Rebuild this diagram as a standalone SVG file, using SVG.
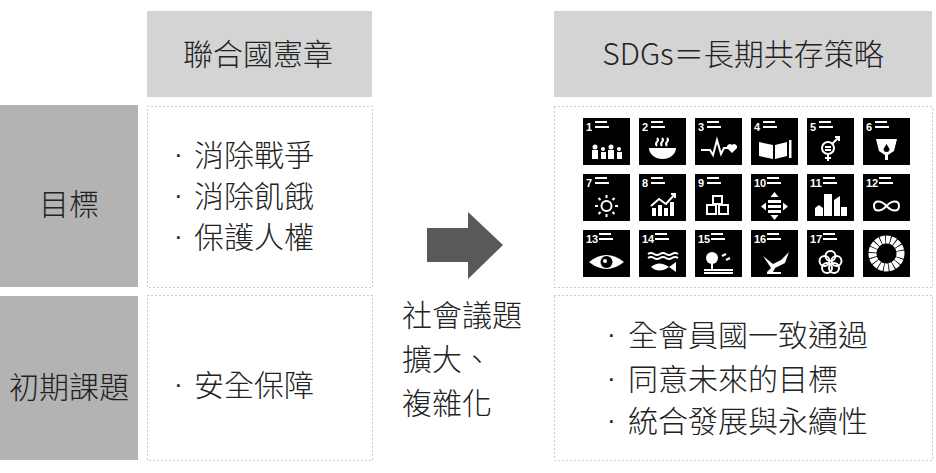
<svg xmlns="http://www.w3.org/2000/svg" width="936" height="473" viewBox="0 0 936 473">
<style>
.t{font-family:"Noto Sans CJK TC","Noto Sans CJK SC",sans-serif;font-weight:300;fill:#222;font-size:30px}
.b{font-family:"Liberation Sans",sans-serif;fill:#222;font-size:26px}
.hd{fill:#d4d4d4}
.side{fill:#b3b3b3}
.dot{fill:#fff;stroke:#999;stroke-width:1;stroke-dasharray:1 3}
.ic{fill:#000}
.n{font-family:"Liberation Sans",sans-serif;font-weight:bold;fill:#fff;font-size:11px}
.w{fill:#fff}
.ws{fill:none;stroke:#fff;stroke-width:2}
</style>
<defs>
<g id="lbl"><rect x="12" y="3" width="12" height="2" class="w"/><rect x="12" y="8" width="14" height="2" class="w"/></g>
</defs>
<rect width="936" height="473" fill="#fff"/>
<g id="header-left"><rect class="hd" x="147" y="11" width="225" height="86"/><text class="t" x="258" y="65" text-anchor="middle">聯合國憲章</text></g>
<g id="header-right"><rect class="hd" x="554" y="11" width="378" height="86"/><text class="t" x="743" y="65" text-anchor="middle">SDGs＝長期共存策略</text></g>
<g id="row-goal"><rect class="side" x="0" y="105" width="138" height="182"/><text class="t" x="69" y="215" text-anchor="middle">目標</text></g>
<g id="row-issue"><rect class="side" x="0" y="296" width="138" height="164"/><text class="t" x="69" y="398" text-anchor="middle">初期課題</text></g>
<g id="un-goals"><rect class="dot" x="147.5" y="106.5" width="225" height="181"/>
<text class="b"><tspan x="174" y="163">·</tspan><tspan x="174" y="204">·</tspan><tspan x="174" y="245">·</tspan></text>
<text class="t" font-size="29"><tspan x="194" y="166">消除戰爭</tspan><tspan x="194" y="207">消除飢餓</tspan><tspan x="194" y="248">保護人權</tspan></text></g>
<g id="un-issue"><rect class="dot" x="147.5" y="295.5" width="225" height="165"/>
<text class="b" x="174" y="393">·</text><text class="t" x="194" y="396">安全保障</text></g>
<g id="sdg-goals"><rect class="dot" x="554.5" y="106.5" width="378" height="181"/>
<g transform="translate(583,118)"><rect class="ic" width="47" height="47"/><text class="n" x="3" y="13">1</text><use href="#lbl"/><g class="w"><circle cx="12" cy="29" r="2.5"/><circle cx="20" cy="31" r="2"/><circle cx="28" cy="29" r="2.5"/><circle cx="36" cy="31" r="2"/><rect x="9" y="32" width="6" height="9"/><rect x="18" y="34" width="5" height="7"/><rect x="25" y="32" width="6" height="9"/><rect x="34" y="34" width="5" height="7"/></g></g>
<g transform="translate(639,118)"><rect class="ic" width="47" height="47"/><text class="n" x="3" y="13">2</text><use href="#lbl"/><path class="w" d="M10 30 H37 A13.5 11 0 0 1 10 30Z"/><path class="ws" stroke-width="1.3" d="M18 20 q2 2 0 4 q-2 2 0 4 M23 20 q2 2 0 4 q-2 2 0 4 M28 20 q2 2 0 4 q-2 2 0 4"/></g>
<g transform="translate(695,118)"><rect class="ic" width="47" height="47"/><text class="n" x="3" y="13">3</text><use href="#lbl"/><path class="ws" stroke-width="1.5" d="M6 32 H15 L18 37 L22 22 L26 36 L29 30 H33"/><path class="w" d="M37 27 a3 3 0 0 1 5 3 l-5 5 l-5 -5 a3 3 0 0 1 5 -3z"/></g>
<g transform="translate(751,118)"><rect class="ic" width="47" height="47"/><text class="n" x="3" y="13">4</text><use href="#lbl"/><path class="w" d="M8 24 L22 27 V41 L8 38Z M24 27 L36 24 V38 L24 41Z"/><rect class="w" x="38" y="22" width="2.5" height="18"/></g>
<g transform="translate(807,118)"><rect class="ic" width="47" height="47"/><text class="n" x="3" y="13">5</text><use href="#lbl"/><circle class="ws" cx="21" cy="30" r="6"/><path class="ws" d="M21 36 V43 M18 40 H24 M25 26 L32 19 M28 19 H32 V23 M18 29 H24 M18 32 H24"/></g>
<g transform="translate(863,118)"><rect class="ic" width="47" height="47"/><text class="n" x="3" y="13">6</text><use href="#lbl"/><path class="w" d="M13 21 H34 L31 33 L25 37 V42 H22 V37 L16 33Z"/><path class="ic" d="M23.5 26 l3 5 a3 3 0 1 1 -6 0z"/></g>
<g transform="translate(583,174)"><rect class="ic" width="47" height="47"/><text class="n" x="3" y="13">7</text><use href="#lbl"/><circle class="ws" cx="23.5" cy="32" r="5"/><path class="ws" stroke-width="1.5" d="M23.5 21 V24 M23.5 40 V43 M12 32 H15 M32 32 H35 M15.5 24 L17.5 26 M29.5 38 L31.5 40 M31.5 24 L29.5 26 M17.5 38 L15.5 40"/></g>
<g transform="translate(639,174)"><rect class="ic" width="47" height="47"/><text class="n" x="3" y="13">8</text><use href="#lbl"/><path class="w" d="M13 34 h4 v8 h-4z M19 31 h4 v11 h-4z M25 34 h4 v8 h-4z M31 28 h4 v14 h-4z"/><path class="ws" d="M12 32 L20 25 L27 30 L36 20 M32 20 H36 V24"/></g>
<g transform="translate(695,174)"><rect class="ic" width="47" height="47"/><text class="n" x="3" y="13">9</text><use href="#lbl"/><path class="ws" stroke-width="1.5" d="M18 22 h9 v8 h-9z M12 31 h9 v9 h-9z M24 31 h9 v9 h-9z"/></g>
<g transform="translate(751,174)"><rect class="ic" width="47" height="47"/><text class="n" x="3" y="13">10</text><use href="#lbl" transform="translate(4,0)"/><path class="w" d="M17 26 h13 v3 h-13z M17 31 h13 v3 h-13z M17 36 h13 v3h-13z M23.5 18 l4 5 h-8z M23.5 46 l4 -5 h-8z M10 32.5 l5 -4 v8z M37 32.5 l-5 -4 v8z"/></g>
<g transform="translate(807,174)"><rect class="ic" width="47" height="47"/><text class="n" x="3" y="13">11</text><use href="#lbl" transform="translate(4,0)"/><path class="w" d="M8 42 V34 l4 -3 l4 3 V42z M17 42 V20 h8 V42z M27 42 V26 l6 -4 V42z M34 42 V33 h6 V42z"/></g>
<g transform="translate(863,174)"><rect class="ic" width="47" height="47"/><text class="n" x="3" y="13">12</text><use href="#lbl" transform="translate(4,0)"/><path class="ws" stroke-width="3" d="M23.5 32 C18 26 11 26 11 32 C11 38 18 38 23.5 32 C29 26 36 26 36 32 C36 38 29 38 23.5 32"/></g>
<g transform="translate(583,230)"><rect class="ic" width="47" height="47"/><text class="n" x="3" y="13">13</text><use href="#lbl" transform="translate(4,0)"/><path class="w" d="M6 32 Q23.5 18 41 32 Q23.5 46 6 32Z"/><circle class="ic" cx="23.5" cy="32" r="6"/><circle class="w" cx="22" cy="31" r="2"/></g>
<g transform="translate(639,230)"><rect class="ic" width="47" height="47"/><text class="n" x="3" y="13">14</text><use href="#lbl" transform="translate(4,0)"/><path class="ws" stroke-width="1.5" d="M9 24 q3 -2 6 0 t6 0 t6 0 t6 0 t6 0 M9 28 q3 -2 6 0 t6 0 t6 0 t6 0 t6 0"/><path class="w" d="M12 37 Q20 30 30 37 L37 32 V42 L30 37 Q20 44 12 37Z"/></g>
<g transform="translate(695,230)"><rect class="ic" width="47" height="47"/><text class="n" x="3" y="13">15</text><use href="#lbl" transform="translate(4,0)"/><circle class="w" cx="17" cy="28" r="6"/><rect class="w" x="16" y="30" width="2" height="9"/><path class="ws" stroke-width="1.5" d="M9 40 H38 M9 43 H38 M27 26 l4 -2 M31 30 l4 -2"/></g>
<g transform="translate(751,230)"><rect class="ic" width="47" height="47"/><text class="n" x="3" y="13">16</text><use href="#lbl" transform="translate(4,0)"/><path class="w" d="M12 26 L22 34 L30 30 L38 22 L34 33 L24 38 L22 42 H30 V44 H16 V42 L20 38Z"/></g>
<g transform="translate(807,230)"><rect class="ic" width="47" height="47"/><text class="n" x="3" y="13">17</text><use href="#lbl" transform="translate(4,0)"/><g class="ws" stroke-width="1.5"><circle cx="23.5" cy="26" r="5"/><circle cx="17.5" cy="31" r="5"/><circle cx="29.5" cy="31" r="5"/><circle cx="20" cy="38" r="5"/><circle cx="27" cy="38" r="5"/></g></g>
<g transform="translate(863,230)"><rect class="ic" width="47" height="47"/><circle cx="23.5" cy="23.5" r="14" fill="none" stroke="#fff" stroke-width="8" stroke-dasharray="4.2 0.8"/></g>
</g>
<g id="sdg-results"><rect class="dot" x="554.5" y="295.5" width="378" height="165"/>
<text class="b"><tspan x="607" y="343">·</tspan><tspan x="607" y="387">·</tspan><tspan x="607" y="429">·</tspan></text>
<text class="t"><tspan x="628" y="346">全會員國一致通過</tspan><tspan x="628" y="390">同意未來的目標</tspan><tspan x="628" y="432">統合發展與永續性</tspan></text></g>
<g id="connectors"><path d="M427 228 H468 V212 L503 245 L468 279 V262 H427Z" fill="#595959"/></g>
<g id="arrow-label"><text class="t"><tspan x="402" y="326">社會議題</tspan><tspan x="402" y="370">擴大、</tspan><tspan x="402" y="414">複雜化</tspan></text></g>
</svg>
